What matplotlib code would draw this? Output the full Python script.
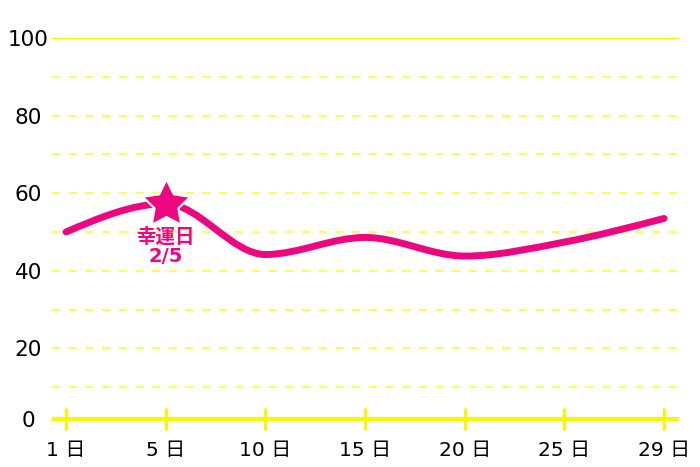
import numpy as np
import matplotlib.pyplot as plt
from matplotlib.path import Path
from matplotlib.patches import PathPatch

plt.rcParams['font.family'] = ['DejaVu Sans', 'Noto Sans CJK JP']

# =============================
# DADOS
# =============================
days = ["1", "5", "10", "15", "20", "25", "29"]
values = [50.0, 57.3, 44.2, 48.6, 43.8, 47.4, 53.5]
lucky_idx = 1
lucky_label = "幸運日\n2/5"
ytick_vals = [20, 40, 60, 80, 100]

PINK = "#ec0680"
YELLOW = "#f7f700"
YELLOW_LIGHT = "#fcfc5c"
AXIS_Y = 1.8  # linha do eixo x fica um pouco acima do zero


def monotone_path(xs, ys):
    # curva monotona (estilo d3 curveMonotoneX) em segmentos Bezier
    xs = np.asarray(xs, float)
    ys = np.asarray(ys, float)
    n = len(xs)
    h = np.diff(xs)
    s = np.diff(ys) / h
    t = np.zeros(n)
    for i in range(1, n - 1):
        p = (s[i - 1] * h[i] + s[i] * h[i - 1]) / (h[i - 1] + h[i])
        t[i] = (np.sign(s[i - 1]) + np.sign(s[i])) * min(abs(s[i - 1]), abs(s[i]), 0.5 * abs(p))
    t[0] = (3 * s[0] - t[1]) / 2
    t[-1] = (3 * s[-1] - t[-2]) / 2
    verts = [(xs[0], ys[0])]
    codes = [Path.MOVETO]
    for i in range(n - 1):
        d = h[i] / 3
        verts += [(xs[i] + d, ys[i] + d * t[i]),
                  (xs[i + 1] - d, ys[i + 1] - d * t[i + 1]),
                  (xs[i + 1], ys[i + 1])]
        codes += [Path.CURVE4] * 3
    return Path(verts, codes)


def star_marker(inner=0.5):
    ang = np.pi / 2 + np.arange(10) * np.pi / 5
    r = np.where(np.arange(10) % 2 == 0, 1.0, inner)
    pts = np.column_stack([r * np.cos(ang), r * np.sin(ang)])
    pts = np.vstack([pts, pts[:1]])
    return Path(pts, closed=True)


fig = plt.figure(figsize=(7, 4.67), dpi=100)
ax = fig.add_axes([0.0743, 0.0878, 0.8957, 0.8308])

x = np.arange(len(days))
ax.set_xlim(-0.14, 6.15)
ax.set_ylim(0, 100)

# grade
for v in range(10, 100, 10):
    ax.axhline(v, color=YELLOW_LIGHT, lw=1.5, ls=(0, (4, 4)), zorder=1)
ax.axhline(100, color=YELLOW, lw=1.6, zorder=1)

for side in ["top", "right", "left"]:
    ax.spines[side].set_visible(False)
ax.spines["bottom"].set_position(("data", AXIS_Y))
ax.spines["bottom"].set_color(YELLOW)
ax.spines["bottom"].set_linewidth(3)
ax.spines["bottom"].set_capstyle("butt")

ax.set_xticks(x)
ax.set_xticklabels([f"{d} 日" for d in days])
ax.tick_params(axis="x", direction="inout", length=16, width=2.2, color=YELLOW,
               pad=8, labelsize=14.5)

ax.set_yticks([AXIS_Y] + ytick_vals)
ax.set_yticklabels(["0"] + [str(v) for v in ytick_vals])
ax.tick_params(axis="y", length=0, pad=17, labelsize=15.5)
for lbl in ax.get_yticklabels():
    lbl.set_horizontalalignment("center")

# linha
path = monotone_path(x, values)
ax.add_patch(PathPatch(path, facecolor="none", edgecolor=PINK, lw=5,
                       capstyle="round", joinstyle="round", zorder=3))

# estrela (com contorno branco)
ax.plot(x[lucky_idx], values[lucky_idx], marker=star_marker(), ms=36, color=PINK,
        mec="white", mew=1.5, zorder=4)
ax.annotate(lucky_label, xy=(x[lucky_idx], values[lucky_idx]), xytext=(0, -17),
            textcoords="offset points", ha="center", va="top", color=PINK,
            fontsize=14, fontweight="bold", linespacing=1.05, zorder=5)

fig.savefig("out.png", dpi=100)
